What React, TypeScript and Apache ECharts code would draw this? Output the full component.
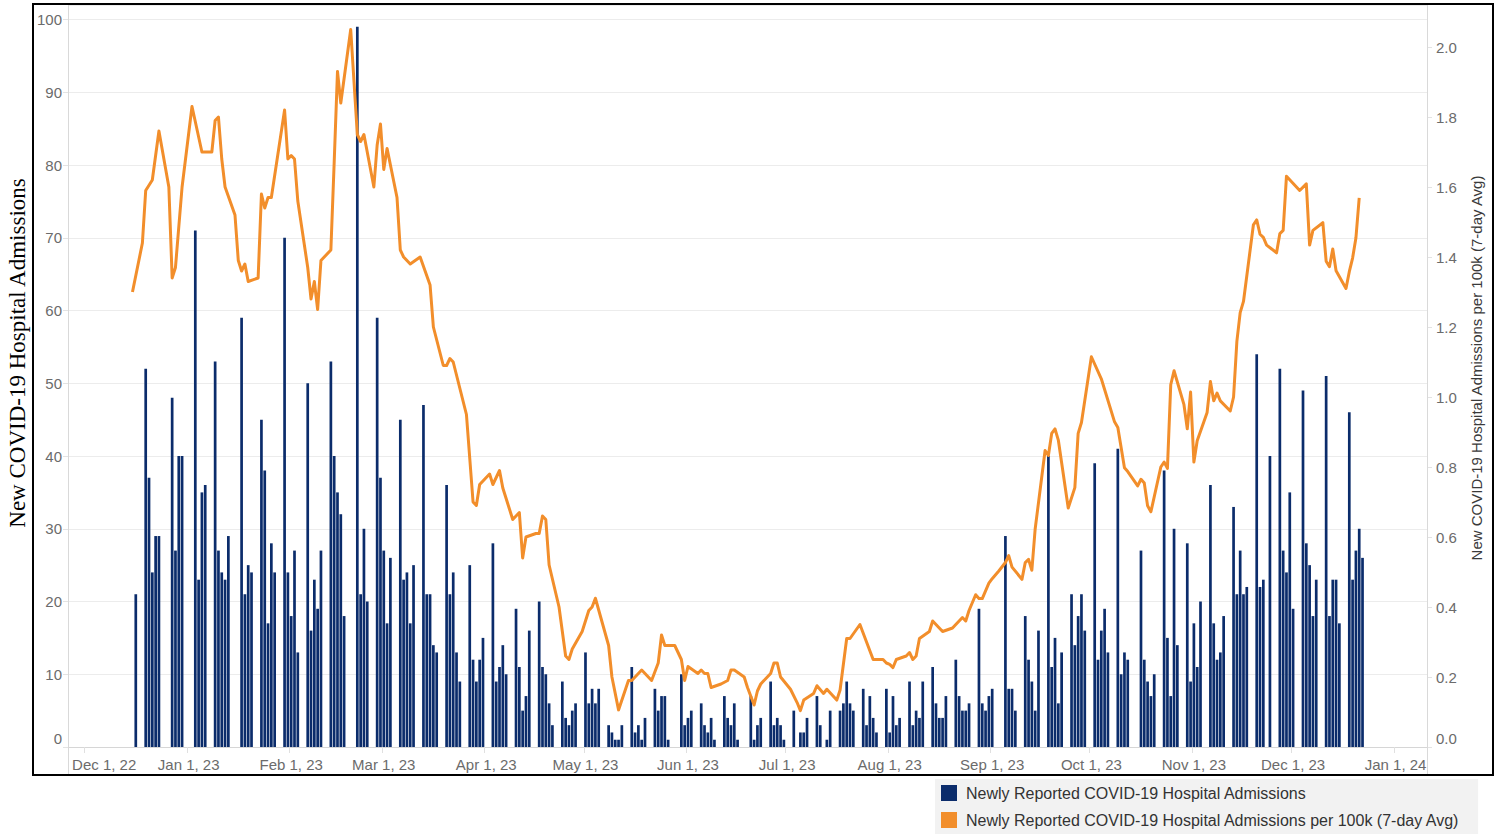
import React, { useEffect, useRef } from 'react';
import * as echarts from 'echarts';

// x-axis domain (daily categories)
const AXIS_FIRST_DAY = { y: 2022, m: 10, d: 26 }; // Nov 26, 2022 (month 0-based)
const AXIS_DAY_COUNT = 411; // through Jan 10, 2024
const MONTHS = ['Jan', 'Feb', 'Mar', 'Apr', 'May', 'Jun', 'Jul', 'Aug', 'Sep', 'Oct', 'Nov', 'Dec'];

// Newly reported admissions, Mon..Fri per week; first Monday = Dec 12, 2022
const FIRST_WEEK_MONDAY = { y: 2022, m: 11, d: 12 };
const weeklyAdmissions: number[][] = [
  [0, 0, 0, 0, 21],
  [52, 37, 24, 29, 29],
  [0, 48, 27, 40, 40],
  [0, 71, 23, 35, 36],
  [53, 27, 24, 23, 29],
  [0, 59, 21, 25, 24],
  [45, 38, 17, 28, 24],
  [70, 24, 18, 27, 13],
  [50, 16, 23, 19, 27],
  [53, 40, 35, 32, 18],
  [0, 99, 21, 30, 20],
  [59, 37, 27, 17, 26],
  [45, 23, 24, 17, 25],
  [47, 21, 21, 14, 13],
  [36, 21, 24, 13, 9],
  [25, 12, 9, 12, 15],
  [28, 9, 11, 14, 10],
  [19, 11, 5, 7, 16],
  [20, 11, 10, 6, 3],
  [9, 4, 3, 5, 6],
  [13, 6, 8, 6, 8],
  [3, 2, 1, 1, 3],
  [11, 2, 3, 1, 4],
  [8, 5, 7, 7, 1],
  [0, 10, 3, 4, 5],
  [6, 3, 2, 4, 1],
  [7, 4, 3, 6, 1],
  [0, 7, 1, 3, 4],
  [9, 3, 4, 3, 1],
  [5, 0, 2, 2, 4],
  [7, 3, 0, 1, 5],
  [5, 6, 9, 6, 5],
  [8, 3, 7, 4, 2],
  [8, 2, 7, 3, 4],
  [9, 3, 5, 4, 9],
  [11, 6, 4, 4, 7],
  [12, 7, 5, 5, 6],
  [19, 6, 5, 7, 8],
  [0, 29, 8, 8, 5],
  [18, 12, 9, 5, 16],
  [40, 11, 15, 6, 13],
  [21, 14, 18, 21, 16],
  [39, 12, 16, 19, 13],
  [41, 10, 13, 12, 0],
  [27, 12, 9, 7, 10],
  [38, 15, 7, 30, 14],
  [28, 9, 17, 11, 20],
  [36, 17, 12, 13, 18],
  [33, 21, 27, 21, 22],
  [54, 22, 23, 0, 40],
  [52, 27, 24, 35, 19],
  [49, 28, 25, 18, 23],
  [51, 18, 23, 23, 17],
  [46, 23, 27, 30, 26],
];

// 7-day avg per 100k: day offsets after Dec 1, 2022 and values
const lineDayOffsets = [
  14, 17, 18, 20, 22, 25, 26, 27, 29, 32, 35, 38, 39, 40, 41, 42, 45, 46, 47, 48, 49, 52, 53, 54, 55, 56,
  60, 61, 62, 63, 64, 67, 68, 69, 70, 71, 74, 75, 76, 77, 80, 82, 83, 84, 87, 88, 89, 90, 91, 94, 95, 96,
  97, 98, 101, 104, 105, 108, 109, 110, 111, 115, 117, 118, 119, 122, 123, 125, 126, 129, 131, 132, 133,
  136, 137, 138, 139, 140, 143, 145, 146, 147, 150, 152, 153, 154, 158, 159, 161, 164, 165, 167, 168,
  171, 173, 174, 175, 178, 180, 181, 182, 185, 186, 187, 188, 189, 192, 194, 195, 196, 199, 200, 202,
  203, 204, 207, 208, 209, 210, 213, 215, 216, 217, 220, 221, 223, 224, 227, 228, 230, 231, 234, 236,
  238, 241, 242, 243, 244, 245, 248, 249, 250, 251, 252, 255, 256, 257, 259, 262, 265, 266, 267, 269,
  270, 271, 273, 274, 276, 278, 279, 280, 283, 284, 285, 286, 287, 290, 291, 292, 293, 294, 297, 299,
  300, 301, 304, 307, 311, 312, 314, 315, 318, 319, 320, 321, 322, 325, 326, 327, 328, 329, 332, 333,
  334, 335, 336, 339, 340, 341, 342, 343, 346, 347, 348, 349, 350, 353, 354, 355, 356, 357, 360, 361,
  362, 363, 367, 369, 370, 371, 374, 375, 376, 377, 378, 381, 382, 383, 384, 385,
];
const lineValues = [
  1.30, 1.44, 1.59, 1.62, 1.76, 1.60, 1.34, 1.37, 1.60, 1.83, 1.70, 1.70, 1.79, 1.80, 1.68, 1.60, 1.52, 1.39, 1.36, 1.38, 1.33, 1.34, 1.58, 1.54, 1.57, 1.57,
  1.82, 1.68, 1.69, 1.68, 1.56, 1.37, 1.28, 1.33, 1.25, 1.39, 1.42, 1.67, 1.93, 1.84, 2.05, 1.75, 1.73, 1.75, 1.60, 1.72, 1.78, 1.65, 1.71, 1.57, 1.42, 1.40,
  1.39, 1.38, 1.40, 1.32, 1.20, 1.09, 1.09, 1.11, 1.10, 0.95, 0.70, 0.69, 0.75, 0.78, 0.75, 0.79, 0.74, 0.65, 0.67, 0.54, 0.60,
  0.61, 0.61, 0.66, 0.65, 0.52, 0.40, 0.26, 0.25, 0.28, 0.33, 0.39, 0.40, 0.425, 0.29, 0.20, 0.106, 0.19, 0.19, 0.21, 0.22,
  0.19, 0.24, 0.32, 0.29, 0.29, 0.25, 0.19, 0.23, 0.21, 0.22, 0.21, 0.21, 0.17, 0.18, 0.19, 0.22, 0.22, 0.20, 0.17, 0.12,
  0.16, 0.18, 0.21, 0.24, 0.24, 0.20, 0.165, 0.127, 0.104, 0.134, 0.153, 0.175, 0.153, 0.165, 0.134, 0.163, 0.31, 0.31, 0.35, 0.30,
  0.25, 0.25, 0.24, 0.236, 0.227, 0.25, 0.26, 0.27, 0.25, 0.26, 0.31, 0.33, 0.36, 0.35, 0.33, 0.34, 0.37, 0.36, 0.39, 0.435,
  0.424, 0.424, 0.468, 0.481, 0.503, 0.527, 0.547, 0.514, 0.479, 0.527, 0.536, 0.505, 0.623, 0.847, 0.833, 0.896, 0.909, 0.877, 0.683, 0.741,
  0.896, 0.927, 1.115, 1.052, 0.929, 0.913, 0.798, 0.787, 0.746, 0.765, 0.754, 0.689, 0.672, 0.80, 0.814, 0.796, 1.035, 1.075, 0.978, 0.909,
  1.014, 0.814, 0.875, 0.956, 1.044, 0.989, 1.011, 0.989, 0.960, 1.0, 1.159, 1.241, 1.273, 1.492, 1.506, 1.465, 1.456, 1.434, 1.412, 1.467,
  1.476, 1.631, 1.59, 1.609, 1.434, 1.476, 1.498, 1.388, 1.372, 1.423, 1.361, 1.31, 1.358, 1.397, 1.454, 1.569,
];

const leftTicks = { min: 0, max: 102, interval: 10 };
const rightTicks = { min: 0, max: 2.12, interval: 0.2 };

const BAR_NAME = 'Newly Reported COVID-19 Hospital Admissions';
const LINE_NAME = 'Newly Reported COVID-19 Hospital Admissions per 100k (7-day Avg)';
const LEFT_TITLE = 'New COVID-19 Hospital Admissions';
const RIGHT_TITLE = 'New COVID-19 Hospital Admissions per 100k (7-day Avg)';

const pad = (n: number) => (n < 10 ? '0' + n : '' + n);
const key = (dt: Date) => `${dt.getFullYear()}-${pad(dt.getMonth() + 1)}-${pad(dt.getDate())}`;

export default function App() {
  const ref = useRef<HTMLDivElement>(null);

  useEffect(() => {
    if (!ref.current) return;
    const chart = echarts.init(ref.current, undefined, { renderer: 'svg' });

    const categories: string[] = [];
    for (let i = 0; i < AXIS_DAY_COUNT; i++) {
      categories.push(key(new Date(AXIS_FIRST_DAY.y, AXIS_FIRST_DAY.m, AXIS_FIRST_DAY.d + i)));
    }
    const barMap: Record<string, number> = {};
    weeklyAdmissions.forEach((week, w) => {
      week.forEach((v, k) => {
        const dt = new Date(FIRST_WEEK_MONDAY.y, FIRST_WEEK_MONDAY.m, FIRST_WEEK_MONDAY.d + 7 * w + k);
        barMap[key(dt)] = v;
      });
    });
    const barData = categories.map((c) => (barMap[c] ? barMap[c] : '-'));

    const dec1Index = categories.indexOf('2022-12-01');
    const lineData: (number | null)[] = categories.map(() => null);
    lineDayOffsets.forEach((d, i) => {
      lineData[dec1Index + d] = lineValues[i];
    });

    const isMonthStart = (_i: number, v: string) => v.slice(8) === '01';
    const labelColor = '#6b6b6b';
    const font = 'Liberation Sans, Arial, sans-serif';

    chart.setOption({
      animation: false,
      textStyle: { fontFamily: font },
      grid: { left: 68, right: 75, top: 5, bottom: 89, containLabel: false },
      legend: {
        orient: 'vertical',
        left: 935,
        top: 779,
        icon: 'rect',
        itemWidth: 16,
        itemHeight: 16,
        itemGap: 11,
        backgroundColor: '#f2f2f2',
        padding: [6, 18, 6, 6],
        textStyle: { fontSize: 16, color: '#333', fontFamily: font, padding: [0, 0, 0, 4] },
        data: [BAR_NAME, LINE_NAME],
      },
      xAxis: {
        type: 'category',
        data: categories,
        boundaryGap: true,
        axisLine: { show: true, lineStyle: { color: '#d6d6d6' } },
        axisTick: { show: true, interval: isMonthStart, length: 6, lineStyle: { color: '#e0e0e0' } },
        axisLabel: {
          interval: isMonthStart,
          margin: 10,
          color: labelColor,
          fontSize: 15,
          fontFamily: font,
          formatter: (v: string) => {
            const dt = new Date(+v.slice(0, 4), +v.slice(5, 7) - 1, +v.slice(8));
            const txt = `${MONTHS[dt.getMonth()]} 1, ${String(dt.getFullYear()).slice(2)}`;
            return v === '2022-12-01' ? `{f|${txt}}` : txt;
          },
          rich: { f: { padding: [0, 0, 0, 36], color: labelColor, fontSize: 15, fontFamily: font } },
        },
        splitLine: { show: false },
      },
      yAxis: [
        {
          type: 'value',
          position: 'left',
          ...leftTicks,
          axisLine: { show: false },
          axisTick: { show: true, length: 5, lineStyle: { color: '#e3e3e3' } },
          axisLabel: {
            showMaxLabel: false,
            margin: 6,
            color: labelColor,
            fontSize: 15,
            fontFamily: font,
            formatter: (v: number) => (v === 0 ? '{z|0}' : String(v)),
            rich: { z: { padding: [0, 0, 18, 0], color: labelColor, fontSize: 15, fontFamily: font } },
          },
          splitLine: { show: true, lineStyle: { color: '#ececec', width: 1 } },
        },
        {
          type: 'value',
          position: 'right',
          ...rightTicks,
          axisLine: { show: false },
          axisTick: { show: true, length: 5, lineStyle: { color: '#e3e3e3' } },
          axisLabel: {
            showMaxLabel: false,
            margin: 9,
            color: labelColor,
            fontSize: 15,
            fontFamily: font,
            formatter: (v: number) => (v === 0 ? '{z|0.0}' : v.toFixed(1)),
            rich: { z: { padding: [0, 0, 18, 0], color: labelColor, fontSize: 15, fontFamily: font } },
          },
          splitLine: { show: false },
        },
      ],
      graphic: [
        { type: 'line', shape: { x1: 68.5, y1: 4, x2: 68.5, y2: 775 }, style: { stroke: '#d9d9d9', lineWidth: 1 }, z: 1 },
        { type: 'line', shape: { x1: 1427.5, y1: 4, x2: 1427.5, y2: 775 }, style: { stroke: '#d9d9d9', lineWidth: 1 }, z: 1 },
        {
          type: 'rect',
          shape: { x: 33, y: 4, width: 1460, height: 771 },
          style: { fill: 'none', stroke: '#000', lineWidth: 2 },
          z: 100,
        },
        {
          type: 'text',
          x: 17,
          y: 353,
          rotation: Math.PI / 2,
          style: {
            text: LEFT_TITLE,
            font: '23px "Liberation Serif", "Times New Roman", serif',
            fill: '#000',
            textAlign: 'center',
            textVerticalAlign: 'middle',
          },
        },
        {
          type: 'text',
          x: 1476,
          y: 368,
          rotation: Math.PI / 2,
          style: {
            text: RIGHT_TITLE,
            font: '15px "Liberation Sans", Arial, sans-serif',
            fill: '#3a3a3a',
            textAlign: 'center',
            textVerticalAlign: 'middle',
          },
        },
      ],
      series: [
        {
          name: BAR_NAME,
          type: 'bar',
          yAxisIndex: 0,
          data: barData,
          barWidth: 2.7,
          itemStyle: { color: '#0b2c6b' },
          z: 2,
        },
        {
          name: LINE_NAME,
          type: 'line',
          yAxisIndex: 1,
          data: lineData,
          connectNulls: true,
          showSymbol: false,
          symbol: 'none',
          lineStyle: { color: '#f28e2b', width: 3, join: 'round' },
          itemStyle: { color: '#f28e2b' },
          z: 3,
        },
      ],
    });

    return () => chart.dispose();
  }, []);

  return <div ref={ref} style={{ position: 'fixed', left: 0, top: 0, width: 1502, height: 836, background: '#fff' }} />;
}
